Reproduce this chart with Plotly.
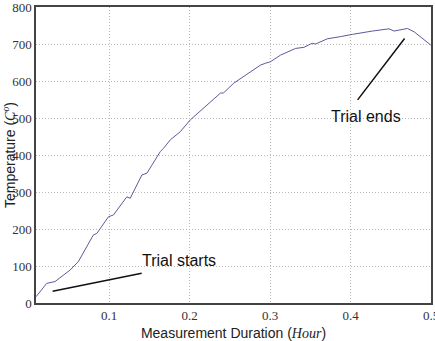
import plotly.graph_objects as go

hours = [0.0091, 0.0224, 0.0328, 0.0431, 0.0514, 0.0618, 0.0701, 0.0763, 0.0804, 0.0847,
         0.0909, 0.0991, 0.1054, 0.1220, 0.1262, 0.1407, 0.1470, 0.1635, 0.1676, 0.1760,
         0.1884, 0.2009, 0.2382, 0.2423, 0.2548, 0.2756, 0.2881, 0.2943, 0.3005, 0.3130,
         0.3316, 0.3420, 0.3524, 0.3565, 0.3711, 0.3877, 0.3939, 0.4022, 0.4271, 0.4478,
         0.4541, 0.4707, 0.4790, 0.4976, 0.4998]
temps = [17, 53, 58, 76, 89, 112, 143, 166, 184, 188,
         206, 233, 238, 287, 283, 346, 351, 409, 418, 441,
         463, 495, 567, 568, 594, 625, 643, 648, 652, 670,
         688, 691, 702, 700, 714, 720, 722, 726, 735, 741,
         735, 742, 733, 699, 697]

fig = go.Figure()
fig.add_trace(go.Scatter(x=hours, y=temps, mode="lines",
                         line=dict(color="#5b5b9b", width=1), showlegend=False,
                         hoverinfo="skip"))

serif = "Liberation Serif"
sans = "Liberation Sans"

fig.add_annotation(x=0.0298, y=32, ax=0.1423, ay=81, xref="x", yref="y",
                   axref="x", ayref="y", text="", showarrow=True,
                   arrowhead=0, arrowwidth=1.5, arrowcolor="#111")
fig.add_annotation(x=0.1863, y=115, text="Trial starts", showarrow=False,
                   font=dict(family=sans, size=16, color="#111"))
fig.add_annotation(x=0.4088, y=549, ax=0.4686, ay=719, xref="x", yref="y",
                   axref="x", ayref="y", text="", showarrow=True,
                   arrowhead=0, arrowwidth=1.5, arrowcolor="#111")
fig.add_annotation(x=0.4188, y=503, text="Trial ends", showarrow=False,
                   font=dict(family=sans, size=16, color="#111"))

fig.update_layout(
    width=435, height=341,
    margin=dict(l=36, r=4, t=7, b=38, autoexpand=False),
    paper_bgcolor="white", plot_bgcolor="white",
    xaxis=dict(range=[0.0091, 0.5], tickvals=[0.1, 0.2, 0.3, 0.4, 0.5],
               ticktext=["0.1", "0.2", "0.3", "0.4", "0.5"], automargin=False,
               showgrid=True, gridcolor="#b8b8b8", griddash="1px,2px", gridwidth=1,
               showline=True, linecolor="#444", linewidth=1.5, mirror=True,
               ticks="", zeroline=False, ticklabeloverflow="allow",
               tickfont=dict(family=serif, size=13, color="#333"),
               title=dict(text="Measurement Duration (<span style='font-family:Liberation Serif'><i>Hour</i></span>)",
                          font=dict(family=sans, size=14, color="#222"), standoff=6)),
    yaxis=dict(range=[0, 800], tickvals=[0, 100, 200, 300, 400, 500, 600, 700, 800],
               automargin=False,
               showgrid=True, gridcolor="#b8b8b8", griddash="1px,2px", gridwidth=1,
               showline=True, linecolor="#444", linewidth=1.5, mirror=True,
               ticks="", zeroline=False, ticklabeloverflow="allow",
               tickfont=dict(family=serif, size=13, color="#333"),
               title=dict(text="Temperature (<span style='font-family:Liberation Serif'><i>C<sup>o</sup></i></span>)",
                          font=dict(family=sans, size=14, color="#222"), standoff=2)),
)

fig.write_html("out.html")
